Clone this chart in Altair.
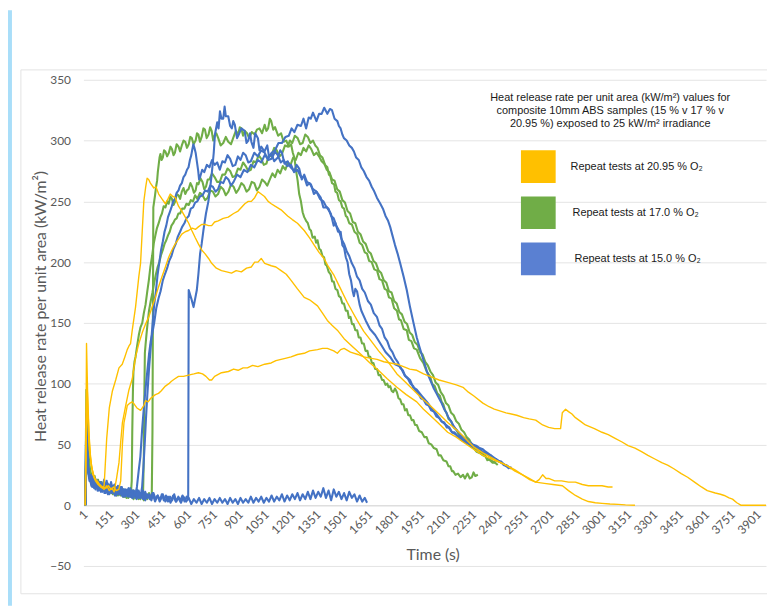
import altair as alt
import pandas as pd

# ---------------- data (time s, HRR kW/m2) ----------------
yellow_1 = [[1,0],[5,60],[8,133],[14,95],[22,60],[32,38],[45,25],[60,20],[75,17],[90,15],[100,14],[110,16],[125,55],[140,80],[158,94],[177,103],[196,113],[215,116],[230,122],[244,128],[254,131],[263,133],[273,144],[292,163],[311,188],[321,199],[331,226],[340,250],[350,261],[359,269],[368,268],[378,265],[398,261],[410,262],[426,256],[445,252],[465,248],[480,252],[493,256],[508,254],[522,253],[541,246],[560,242],[580,237],[600,232],[618,226],[638,220],[656,215],[675,210],[694,207],[715,203],[733,199],[760,195],[790,193],[820,192],[848,191],[875,193],[905,192],[935,195],[963,196],[982,200],[1001,200],[1020,203],[1040,199],[1078,197],[1105,196],[1135,193],[1165,190],[1193,185],[1230,178],[1269,171],[1300,169],[1346,164],[1375,158],[1403,152],[1430,148],[1461,144],[1500,137],[1537,132],[1575,127],[1614,122],[1650,117],[1691,112],[1750,104],[1806,97],[1860,91],[1921,85],[1960,79],[1998,74],[2050,67],[2100,60],[2150,56],[2189,52],[2250,46],[2304,41],[2370,37],[2438,33],[2490,28],[2534,25],[2572,22],[2610,19],[2660,18],[2710,17],[2765,16],[2800,12],[2840,8],[2880,5],[2915,3],[2955,2],[2994,1.5],[3040,1],[3087,0.7],[3130,0.3],[3185,0]]

yellow_2 = [[1,0],[5,40],[10,105],[16,80],[25,50],[35,33],[50,24],[65,20],[80,17],[95,15],[110,13],[125,16],[140,12],[155,14],[168,11],[182,22],[196,35],[206,52],[216,68],[235,82],[254,95],[273,104],[292,122],[311,133],[331,142],[350,149],[369,155],[388,163],[407,171],[426,180],[445,188],[465,196],[484,204],[503,210],[522,215],[541,219],[560,223],[580,225],[599,226],[620,228],[640,227],[656,229],[675,231],[694,231],[715,230],[733,230],[750,233],[771,234],[800,236],[829,237],[860,240],[886,242],[905,245],[925,248],[945,250],[963,250],[982,253],[1001,258],[1020,256],[1039,254],[1060,250],[1078,248],[1100,246],[1135,243],[1173,238],[1200,235],[1230,232],[1269,226],[1300,220],[1327,214],[1355,208],[1384,203],[1410,196],[1442,189],[1480,178],[1518,167],[1545,160],[1576,152],[1614,143],[1652,136],[1700,127],[1760,117],[1806,108],[1850,102],[1900,95],[1950,88],[1998,82],[2050,75],[2100,68],[2150,62],[2189,57],[2250,48],[2304,43],[2380,37],[2438,33],[2490,29],[2534,25],[2575,21],[2610,19],[2630,21],[2650,25],[2670,22],[2685,22],[2720,20],[2760,20],[2800,19],[2840,19],[2880,17],[2915,16],[2955,16],[2994,16],[3030,15],[3055,15]]

yellow_3 = [[1,0],[4,50],[9,90],[15,70],[25,45],[40,30],[55,22],[70,20],[85,17],[100,15],[120,14],[135,16],[150,13],[165,15],[180,12],[195,13],[206,20],[216,50],[225,68],[235,75],[244,82],[260,84],[273,85],[285,83],[300,80],[321,78],[340,82],[350,86],[365,85],[380,88],[407,91],[425,92],[440,94],[465,98],[485,100],[500,102],[520,104],[541,106],[570,106],[599,107],[630,108],[656,109],[680,108],[700,106],[720,103],[733,103],[750,106],[790,109],[830,110],[860,112],[886,111],[915,113],[940,113],[970,115],[1001,114],[1040,116],[1078,117],[1105,119],[1135,120],[1165,121],[1193,122],[1230,124],[1269,125],[1300,127],[1346,128],[1375,129],[1403,129],[1440,127],[1461,125],[1480,128],[1500,129],[1537,126],[1580,124],[1614,122],[1650,121],[1691,120],[1730,118],[1767,117],[1806,116],[1844,114],[1880,112],[1921,111],[1960,108],[1998,106],[2050,103],[2100,101],[2150,99],[2189,97],[2220,93],[2250,90],[2304,84],[2340,81],[2370,79],[2438,76],[2500,74],[2540,72],[2572,71],[2610,70],[2650,66],[2685,64],[2720,63],[2754,63],[2764,76],[2783,79],[2800,77],[2820,75],[2840,72],[2870,69],[2898,66],[2950,63],[2994,60],[3030,58],[3070,55],[3110,52],[3145,49],[3185,47],[3223,44],[3260,41],[3300,38],[3340,35],[3374,33],[3410,30],[3453,26],[3490,23],[3530,19],[3570,15],[3604,12],[3650,10],[3680,9],[3702,8],[3730,6],[3750,5],[3775,2],[3798,0],[3944,0]]

green_1 = [[1,0],[4,45],[7,95],[11,70],[15,55],[20,40],[25,30],[32,24],[40,19],[50,22],[60,15],[70,20],[80,14],[90,18],[100,12],[110,17],[120,11],[130,16],[140,10],[150,15],[160,9],[170,14],[180,8],[190,13],[200,9],[210,14],[220,7],[230,12],[240,6],[250,11],[260,7],[270,12],[280,5],[290,10],[300,6],[310,11],[320,5],[330,9],[340,4],[350,9],[360,5],[370,10],[380,5],[386,8],[390,60],[395,245],[400,250],[405,255],[411,262],[417,267],[421,274],[426,280],[431,286],[436,289],[443,284],[450,286],[457,292],[465,291],[475,287],[485,290],[494,295],[503,293],[512,288],[520,290],[530,297],[541,295],[550,291],[560,296],[570,300],[580,299],[590,294],[600,297],[609,303],[618,302],[628,297],[640,300],[648,306],[656,305],[665,299],[675,303],[685,310],[694,309],[704,302],[715,305],[724,311],[733,308],[742,300],[750,304],[760,306],[771,302],[785,296],[800,298],[815,303],[829,299],[845,297],[860,303],[873,308],[886,305],[896,311],[905,310],[915,304],[925,308],[938,306],[950,302],[965,307],[982,305],[995,309],[1010,310],[1025,306],[1040,313],[1050,308],[1060,310],[1070,318],[1078,316],[1090,309],[1100,311],[1118,304],[1135,306],[1150,299],[1165,300],[1180,295],[1193,297],[1203,290],[1212,286],[1222,275],[1231,267],[1240,256],[1250,250],[1260,241],[1269,237],[1280,234],[1290,232],[1300,227],[1308,226],[1318,220],[1330,221],[1338,216],[1346,218],[1356,211],[1365,210],[1375,205],[1384,204],[1392,198],[1400,197],[1411,192],[1422,190],[1431,184],[1440,184],[1450,178],[1461,177],[1470,172],[1480,171],[1490,166],[1499,166],[1510,160],[1520,160],[1528,154],[1537,155],[1546,149],[1555,149],[1565,144],[1576,144],[1585,138],[1595,138],[1604,133],[1614,133],[1624,127],[1635,127],[1643,122],[1652,122],[1661,117],[1670,117],[1680,112],[1691,112],[1700,107],[1710,107],[1720,103],[1729,103],[1740,99],[1750,100],[1758,97],[1767,98],[1776,94],[1785,93],[1795,96],[1806,93],[1815,88],[1825,87],[1835,83],[1844,83],[1853,78],[1863,79],[1872,74],[1882,74],[1892,70],[1902,70],[1911,66],[1921,66],[1935,61],[1950,60],[1965,56],[1978,56],[1990,51],[2005,50],[2020,47],[2036,46],[2048,41],[2060,41],[2075,37],[2093,36],[2105,32],[2115,32],[2125,28],[2132,28],[2145,25],[2160,26],[2175,23],[2189,25],[2200,22],[2215,26],[2228,22],[2240,23],[2250,27],[2260,24],[2275,25]]

green_2 = [[1,0],[5,35],[8,70],[12,55],[18,45],[25,32],[35,25],[45,20],[55,24],[65,16],[75,21],[85,14],[95,19],[105,13],[115,18],[125,12],[135,17],[145,11],[155,16],[165,10],[175,15],[185,9],[195,14],[205,8],[215,13],[225,7],[235,12],[245,8],[255,13],[265,9],[270,20],[273,60],[277,95],[280,110],[286,118],[292,122],[300,130],[311,140],[320,146],[331,150],[340,158],[350,165],[360,176],[369,185],[378,196],[388,205],[397,215],[407,222],[416,228],[426,232],[436,237],[445,240],[455,246],[465,245],[475,250],[484,248],[494,254],[503,252],[512,247],[522,250],[531,256],[541,255],[550,252],[560,258],[570,261],[580,256],[590,259],[599,260],[610,265],[620,262],[630,257],[640,259],[648,265],[656,264],[668,269],[680,266],[690,260],[700,262],[710,268],[720,268],[735,273],[750,270],[765,266],[780,266],[795,272],[810,272],[825,277],[840,275],[855,270],[870,271],[885,277],[900,276],[915,282],[930,279],[945,275],[960,276],[975,283],[990,282],[1005,288],[1020,285],[1035,280],[1050,281],[1065,288],[1078,287],[1095,294],[1110,292],[1125,287],[1140,289],[1158,296],[1173,295],[1186,300],[1200,298],[1215,304],[1231,302],[1245,297],[1260,298],[1275,305],[1290,303],[1305,298],[1320,300],[1333,296],[1346,294],[1360,288],[1375,286],[1390,280],[1403,278],[1412,272],[1420,271],[1430,265],[1442,264],[1450,258],[1460,257],[1470,251],[1480,250],[1490,245],[1500,244],[1510,238],[1518,237],[1530,232],[1545,231],[1560,225],[1576,223],[1590,216],[1605,214],[1620,208],[1633,207],[1645,201],[1660,200],[1675,194],[1691,193],[1705,186],[1720,185],[1735,178],[1748,177],[1760,171],[1775,170],[1790,162],[1806,160],[1818,153],[1830,152],[1845,145],[1863,144],[1875,136],[1890,135],[1905,129],[1921,128],[1940,121],[1959,117],[1978,110],[1998,106],[2010,100],[2025,98],[2040,92],[2055,90],[2065,85],[2075,83],[2085,78],[2093,76],[2105,71],[2120,69],[2135,64],[2151,62],[2165,58],[2180,56],[2195,53],[2208,52],[2230,49],[2250,47],[2268,44],[2285,43],[2305,41],[2320,40],[2330,37],[2342,38],[2360,36],[2380,35]]

green_3 = [[1,0],[6,40],[10,30],[15,30],[22,25],[30,22],[40,18],[50,21],[60,16],[70,19],[80,13],[90,17],[100,12],[110,16],[120,15],[130,11],[140,15],[150,10],[160,14],[170,9],[180,13],[190,8],[200,12],[210,9],[220,13],[230,7],[240,11],[250,6],[260,10],[270,8],[280,12],[290,6],[300,10],[310,5],[320,9],[330,7],[336,12],[340,40],[343,90],[346,125],[350,132],[355,140],[362,150],[370,160],[380,168],[390,175],[400,183],[410,190],[420,196],[430,200],[440,206],[450,210],[460,215],[470,218],[480,222],[490,225],[500,230],[510,232],[520,235],[530,236],[540,240],[550,240],[562,244],[575,244],[587,248],[600,247],[612,251],[625,250],[637,255],[650,252],[665,257],[680,255],[695,251],[710,253],[725,259],[740,258],[755,254],[770,256],[785,262],[800,260],[815,255],[830,258],[845,264],[860,262],[875,257],[890,260],[905,265],[920,263],[935,258],[950,260],[965,266],[980,265],[995,259],[1010,262],[1025,268],[1040,266],[1055,263],[1070,268],[1085,273],[1100,270],[1115,276],[1130,273],[1145,279],[1160,276],[1175,282],[1190,280],[1205,286],[1220,284],[1235,290],[1250,288],[1265,294],[1280,291],[1295,296],[1310,293],[1325,288],[1340,290],[1355,287],[1370,283],[1385,281],[1400,276],[1415,274],[1430,268],[1445,267],[1460,260],[1475,258],[1490,251],[1505,249],[1520,242],[1535,240],[1550,233],[1565,232],[1580,225],[1595,223],[1610,217],[1625,215],[1640,209],[1655,207],[1670,201],[1685,199],[1700,193],[1715,191],[1730,185],[1745,183],[1760,176],[1775,175],[1790,168],[1805,166],[1820,159],[1835,157],[1850,151],[1865,149],[1880,142],[1895,140],[1910,134],[1925,132],[1940,126],[1955,124],[1970,118],[1985,115],[2000,110],[2015,107],[2030,101],[2045,99],[2060,93],[2075,90],[2090,84],[2105,82],[2120,76],[2135,74],[2150,69],[2165,67],[2180,62],[2195,60],[2210,56],[2225,54],[2240,50],[2255,49],[2270,46],[2285,45],[2300,42],[2315,41],[2330,38],[2345,37],[2360,35],[2375,35],[2390,33]]

blue_1 = [[1,0],[4,40],[7,75],[11,50],[16,32],[22,25],[30,20],[38,24],[46,17],[55,22],[64,15],[72,20],[80,13],[90,19],[100,14],[110,21],[120,12],[130,18],[140,11],[150,19],[160,13],[170,17],[180,10],[190,16],[200,9],[212,15],[224,8],[236,13],[248,7],[260,12],[272,6],[285,11],[298,5],[310,10],[322,6],[335,12],[348,4],[360,9],[375,5],[390,10],[405,3],[420,8],[435,4],[450,9],[465,3],[480,7],[495,2],[510,8],[525,3],[540,6],[555,2],[570,7],[585,3],[600,6],[615,1],[630,5],[645,2],[660,6],[675,1],[690,5],[705,2],[720,6],[735,1],[750,5],[765,2],[780,6],[795,2],[810,5],[825,1],[840,6],[855,2],[870,5],[885,1],[900,6],[915,2],[930,5],[945,2],[960,7],[975,2],[990,6],[1005,3],[1020,7],[1035,2],[1050,6],[1065,3],[1080,8],[1095,3],[1110,7],[1125,4],[1140,9],[1155,3],[1170,8],[1185,4],[1200,9],[1215,5],[1230,10],[1245,4],[1260,9],[1275,5],[1290,11],[1305,5],[1320,12],[1335,6],[1350,11],[1365,7],[1380,14],[1395,6],[1410,12],[1425,4],[1440,13],[1455,7],[1470,11],[1485,5],[1500,10],[1515,4],[1530,11],[1545,6],[1560,9],[1575,3],[1590,8],[1605,3],[1620,6],[1633,2]]

blue_2 = [[1,0],[6,60],[12,45],[18,30],[26,22],[35,18],[45,24],[55,16],[65,21],[75,14],[85,19],[95,12],[105,18],[115,13],[125,20],[135,11],[145,17],[155,12],[165,16],[175,10],[185,15],[195,9],[205,14],[215,8],[228,13],[240,9],[252,14],[264,7],[276,12],[288,8],[300,13],[312,6],[324,10],[336,5],[348,11],[360,6],[372,9],[384,4],[396,10],[408,5],[420,8],[432,3],[444,9],[456,4],[468,8],[480,3],[492,7],[504,4],[516,9],[528,3],[540,7],[552,4],[564,8],[576,3],[588,7],[597,5],[600,177],[615,170],[628,163],[647,177],[656,190],[666,207],[675,215],[685,226],[700,240],[714,250],[725,262],[733,272],[745,290],[752,305],[765,315],[773,310],[781,324],[790,318],[800,318],[808,328],[815,320],[829,320],[840,312],[850,310],[858,316],[867,313],[880,302],[890,305],[905,310],[924,308],[935,298],[945,300],[955,306],[963,299],[975,294],[985,306],[1001,302],[1010,292],[1020,295],[1039,291],[1055,296],[1065,287],[1080,289],[1095,283],[1116,286],[1130,292],[1140,290],[1155,281],[1173,283],[1190,278],[1212,275],[1225,280],[1240,277],[1255,268],[1269,272],[1285,266],[1308,264],[1325,256],[1340,258],[1365,253],[1380,245],[1400,245],[1423,240],[1440,230],[1450,232],[1465,225],[1480,225],[1490,214],[1500,212],[1510,204],[1520,200],[1530,190],[1540,185],[1550,176],[1557,172],[1565,178],[1575,176],[1590,165],[1600,160],[1625,152],[1650,145],[1680,140],[1710,133],[1740,126],[1767,122],[1795,116],[1825,114],[1850,107],[1882,103],[1900,97],[1921,95],[1950,90],[1980,85],[2005,80],[2035,75],[2065,69],[2100,65],[2125,60],[2150,58],[2175,54],[2200,52],[2230,50],[2265,48],[2300,44],[2330,42],[2365,38],[2400,36],[2435,33],[2470,30]]

blue_3 = [[1,0],[5,30],[9,55],[14,38],[20,28],[28,22],[36,16],[44,23],[52,14],[62,20],[72,12],[82,18],[92,11],[102,17],[112,10],[122,16],[132,9],[142,15],[152,10],[162,16],[172,8],[182,14],[192,9],[202,15],[212,8],[222,13],[232,7],[242,12],[252,8],[262,14],[272,7],[282,12],[292,9],[300,15],[310,28],[320,40],[330,62],[340,80],[350,96],[360,110],[370,124],[380,135],[390,142],[400,150],[412,162],[425,170],[437,176],[450,185],[462,190],[475,195],[487,201],[500,205],[512,211],[525,215],[537,221],[550,225],[562,229],[575,232],[587,236],[600,238],[612,244],[625,245],[637,249],[650,250],[665,254],[680,255],[695,259],[710,258],[725,263],[740,262],[755,258],[770,260],[785,266],[800,265],[815,270],[830,268],[845,263],[860,266],[880,272],[900,270],[920,276],[940,274],[960,280],[980,278],[1000,284],[1020,282],[1040,288],[1060,285],[1080,290],[1100,292],[1120,298],[1140,298],[1160,303],[1180,304],[1196,310],[1212,307],[1230,313],[1250,312],[1265,318],[1280,310],[1295,319],[1307,318],[1320,323],[1340,316],[1355,322],[1370,322],[1385,327],[1403,322],[1418,326],[1430,325],[1445,318],[1461,316],[1470,312],[1480,310],[1490,305],[1499,302],[1515,300],[1530,296],[1545,294],[1557,291],[1570,286],[1585,284],[1600,278],[1614,275],[1630,270],[1645,267],[1660,262],[1672,259],[1690,253],[1710,248],[1725,244],[1740,238],[1755,234],[1767,229],[1780,222],[1795,214],[1810,207],[1825,199],[1845,188],[1863,177],[1882,163],[1902,150],[1921,138],[1935,131],[1950,124],[1965,117],[1978,111],[1990,106],[2005,101],[2020,96],[2035,92],[2050,88],[2065,84],[2080,79],[2093,76],[2105,72],[2120,69],[2135,65],[2150,62],[2170,59],[2190,56],[2210,54],[2227,52],[2245,50],[2265,49],[2285,47],[2304,46],[2320,44],[2340,42],[2360,40],[2380,38],[2400,36],[2420,34],[2440,32],[2457,30]]

blue_4 = [[1,0],[6,25],[12,40],[18,28],[25,20],[33,25],[41,15],[50,22],[60,13],[70,19],[80,12],[90,18],[100,11],[110,17],[120,10],[130,16],[140,9],[150,15],[160,10],[170,16],[180,8],[190,14],[200,9],[210,15],[220,7],[230,12],[240,8],[250,13],[260,7],[270,12],[280,6],[290,11],[300,7],[310,12],[320,6],[330,15],[338,32],[345,50],[352,70],[360,90],[370,112],[380,130],[390,148],[400,165],[410,176],[420,190],[430,200],[440,210],[450,217],[460,225],[470,230],[480,237],[490,241],[500,245],[510,250],[520,252],[530,257],[541,259],[550,263],[560,265],[570,270],[580,272],[590,276],[599,278],[607,284],[615,288],[620,292],[627,297],[633,294],[640,290],[648,282],[655,275],[660,268],[666,270],[678,276],[690,274],[705,280],[720,278],[735,284],[750,280],[765,282],[780,276],[795,283],[810,282],[825,288],[840,285],[855,279],[870,280],[885,287],[900,284],[915,290],[930,288],[945,282],[960,283],[980,290],[1000,287],[1020,292],[1040,290],[1060,284],[1080,285],[1100,291],[1116,288],[1133,282],[1150,284],[1170,279],[1193,280],[1210,274],[1230,276],[1250,270],[1269,270],[1285,263],[1300,265],[1320,260],[1340,258],[1360,252],[1380,250],[1395,246],[1410,244],[1425,238],[1440,236],[1455,230],[1470,226],[1485,219],[1500,215],[1515,209],[1530,205],[1545,199],[1560,195],[1575,188],[1590,185],[1605,178],[1620,175],[1638,168],[1655,165],[1672,158],[1690,155],[1705,148],[1720,145],[1735,138],[1750,135],[1765,129],[1780,126],[1795,121],[1810,118],[1825,113],[1840,111],[1855,106],[1870,104],[1885,100],[1900,98],[1915,94],[1930,92],[1945,88],[1960,87],[1975,83],[1990,82],[2005,78],[2020,77],[2035,73],[2050,72],[2065,69],[2080,68],[2095,64],[2110,64],[2125,60],[2140,60],[2155,57],[2170,57],[2185,54],[2200,54],[2215,51],[2230,51],[2245,48],[2260,48],[2275,46],[2290,46],[2305,43],[2320,43],[2335,41],[2350,41],[2365,38],[2380,38],[2395,36],[2410,36],[2425,33],[2440,33],[2455,31],[2470,31]]

groups = ["Repeat tests at 20.95 % O\u2082", "Repeat tests at 17.0 % O\u2082", "Repeat tests at 15.0 % O\u2082"]
group_colors = ["#FFC000", "#70AD47", "#4472C4"]
legend_square_colors = ["#FFC000", "#70AD47", "#5A80D2"]
x_ticks = list(range(1, 3902, 150))
y_ticks = list(range(-50, 351, 50))
header_lines = ["Heat release rate per unit area (kW/m\u00b2) values for",
                "composite 10mm ABS samples (15 % v 17 % v",
                "20.95 %) exposed to 25 kW/m\u00b2 irradiance"]

runs = [("Y1", groups[0], yellow_1), ("Y2", groups[0], yellow_2), ("Y3", groups[0], yellow_3),
        ("G1", groups[1], green_1), ("G2", groups[1], green_2), ("G3", groups[1], green_3),
        ("B1", groups[2], blue_1), ("B2", groups[2], blue_2), ("B3", groups[2], blue_3), ("B4", groups[2], blue_4)]
rows = []
for name, grp, pts in runs:
    for t, v in pts:
        rows.append({"t": t, "v": v, "run": name, "group": grp})
df = pd.DataFrame(rows)
one = pd.DataFrame({"k": [0]})

# ---------------- chart ----------------
FONT = "Lato"
GREY = "#595959"

xscale = alt.Scale(domain=[-10, 3944], nice=False, zero=False)
yscale = alt.Scale(domain=[-50, 350], nice=False, zero=False)

x_axis = alt.Axis(values=x_ticks, format="d", labelAngle=315, labelAlign="right", labelBaseline="middle",
                  labelPadding=7, labelFont=FONT, labelFontSize=12, labelColor=GREY,
                  labelOverlap=False, labelFlush=False, grid=False, ticks=False,
                  domain=True, domainColor="#d9d9d9", offset=-61.25,
                  title="Time (s)", titleFont=FONT, titleFontSize=16, titleColor=GREY,
                  titleFontWeight="normal", titleX=352, titleY=42, titleAlign="center",
                  titleBaseline="top")
y_axis = alt.Axis(values=y_ticks, grid=True, gridColor="#e4e4e4", domain=False, ticks=False,
                  labelPadding=13, labelFont=FONT, labelFontSize=12, labelColor=GREY,
                  title="Heat release rate per unit area (kW/m\u00b2)", titleFont=FONT,
                  titleFontSize=16, titleColor=GREY, titleFontWeight="normal", titleAngle=270,
                  titleX=-35, titleY=228, titleAlign="center", titleBaseline="bottom")

color = alt.Color("group:N", scale=alt.Scale(domain=groups, range=group_colors), legend=None)


def lines(grp, width):
    return alt.Chart(df).transform_filter(alt.datum.group == grp).mark_line(
        strokeWidth=width, clip=True, strokeJoin="round").encode(
        x=alt.X("t:Q", scale=xscale, axis=x_axis),
        y=alt.Y("v:Q", scale=yscale, axis=y_axis),
        color=color,
        detail="run:N",
    )


strip = alt.Chart(one).mark_rect(color="#a9def9").encode(
    x=alt.value(-76), x2=alt.value(-72), y=alt.value(-70), y2=alt.value(530))
border = alt.Chart(one).mark_rect(filled=False, color="#e3e3e3", strokeWidth=1).encode(
    x=alt.value(-63), x2=alt.value(700), y=alt.value(-10), y2=alt.value(518))
header = alt.Chart(one).mark_text(text=header_lines, font="Liberation Sans", fontSize=11,
                                  color="#1a1a1a", align="center", baseline="middle",
                                  lineHeight=13.3).encode(x=alt.value(531), y=alt.value(18))

# legend: coloured squares with labels (drawn as a key box inside the plot)
legend_layers = []
for i, (g, c) in enumerate(zip(groups, legend_square_colors)):
    top = 71 + i * 46.5
    legend_layers.append(alt.Chart(one).mark_rect(color=c).encode(
        x=alt.value(441), x2=alt.value(476), y=alt.value(top), y2=alt.value(top + 33)))
    legend_layers.append(alt.Chart(one).mark_text(text=g, font="Liberation Sans", fontSize=11,
                                                  color="#1a1a1a", align="left", baseline="middle").encode(
        x=alt.value(491 + 2 * i), y=alt.value(top + 17)))

chart = alt.layer(
    strip, border,
    lines(groups[1], 2.1),
    lines(groups[2], 2.1),
    lines(groups[0], 1.4),
    header,
    *legend_layers,
).properties(
    width=688, height=490,
    autosize=alt.AutoSizeParams(type="none"),
    padding={"left": 76, "top": 70, "right": 1, "bottom": 40},
    background="white",
).configure_view(stroke=None)

chart.save("out.html", embed_options={"renderer": "svg", "actions": False})
